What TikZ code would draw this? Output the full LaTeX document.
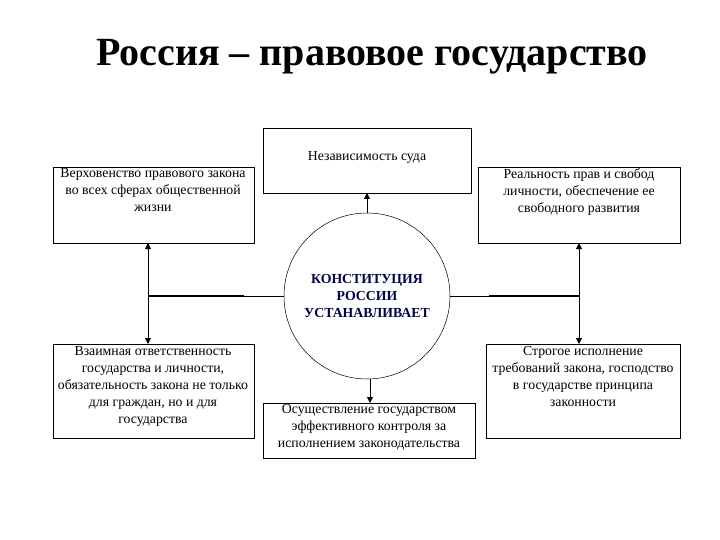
\documentclass[tikz,border=0pt]{standalone}
\usepackage{fontspec}
\setmainfont{Liberation Serif}
\usetikzlibrary{arrows.meta}
\begin{document}
\begin{tikzpicture}[x=1pt,y=-1pt,
  txt/.style={font=\fontsize{13.8}{17}\selectfont,align=center},
  frame/.style={line width=0.6pt},
  arr/.style={-{Triangle[length=6pt,width=6pt]},line width=0.8pt},
  darr/.style={{Triangle[length=6pt,width=6pt]}-{Triangle[length=6pt,width=6pt]},line width=0.8pt}]
\useasboundingbox (0,0) rectangle (720,540);
\node[font=\fontsize{40}{44}\selectfont\bfseries] (title) at (372,57) {Россия – правовое государство};
\draw[frame] (263,128) rectangle (471,193);
\node[txt] (t) at (367,157) {Независимость суда};
\coordinate (tb) at (367,193);
\draw[frame] (53,167) rectangle (254,243);
\node[txt,anchor=north] (tl) at (153,165) {Верховенство правового закона\\во всех сферах общественной\\жизни};
\draw[frame] (478,167) rectangle (680,243);
\node[txt,anchor=north] (tr) at (579,165) {Реальность прав и свобод\\личности, обеспечение ее\\свободного развития};
\draw[frame] (53,344) rectangle (254,438);
\node[txt,anchor=north] (bl) at (153,343) {Взаимная ответственность\\государства и личности,\\обязательность закона не только\\для граждан, но и для\\государства};
\draw[frame] (486,344) rectangle (680,438);
\node[txt,anchor=north] (br) at (583,343) {Строгое исполнение\\требований закона, господство\\в государстве принципа\\законности};
\draw[frame] (263,403) rectangle (475,458);
\node[txt,anchor=north] (bc) at (369,401) {Осуществление государством\\эффективного контроля за\\исполнением законодательства};
\node[draw,circle,minimum size=166pt,inner sep=0pt,line width=0.5pt,txt,font=\fontsize{13.8}{17}\selectfont\bfseries,text=blue!30!black] (c) at (367,296) {КОНСТИТУЦИЯ\\РОССИИ\\УСТАНАВЛИВАЕТ};
\coordinate (tlb) at (148,243); \coordinate (blt) at (148,344);
\coordinate (trb) at (579,243); \coordinate (brt) at (579,344);
\coordinate (lj) at (148,296); \coordinate (rj) at (579,296);
\coordinate (bct) at (370,403);
\draw[arr] (c.north) -- (tb);
\draw[arr] (c.south -| bct) -- (bct);
\draw[darr] (tlb) -- (blt);
\draw[darr] (trb) -- (brt);
\draw[line width=0.6pt] (c.west) -- (lj);
\draw[line width=1.5pt] (244,296) -- (lj);
\draw[line width=0.6pt] (c.east) -- (rj);
\draw[line width=1.5pt] (489,296) -- (rj);
\end{tikzpicture}
\end{document}
